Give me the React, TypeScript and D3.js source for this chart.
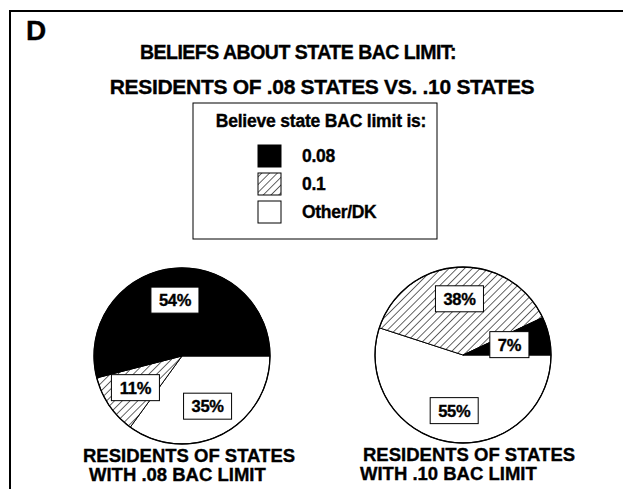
import * as d3 from 'd3';

const W = 623;
const H = 489;

// slice order, clockwise from 3 o'clock
const CATEGORIES = ['Other/DK', '0.1', '0.08'];
const RES_08 = [35, 11, 54];
const RES_10 = [55, 38, 7];

const LEGEND_ORDER = ['0.08', '0.1', 'Other/DK'];
const TITLE_LINES = ['BELIEFS ABOUT STATE BAC LIMIT:', 'RESIDENTS OF .08 STATES VS. .10 STATES'];
const CAPTIONS = [
  ['RESIDENTS OF STATES', 'WITH .08 BAC LIMIT'],
  ['RESIDENTS OF STATES', 'WITH .10 BAC LIMIT'],
];

const FONT = '"Liberation Sans", Arial, sans-serif';
// scanned print is heavy: thicken the glyphs a little
const INK = { stroke: '#000', strokeWidth: 0.35 };

const fillFor = (cat: string) =>
  cat === '0.08' ? '#000' : cat === '0.1' ? 'url(#hatch)' : '#fff';

const pie = d3
  .pie<number>()
  .sort(null)
  .value(d => d)
  .startAngle(Math.PI / 2)
  .endAngle(Math.PI / 2 + 2 * Math.PI);

const R = 88;
const arc = d3.arc<d3.PieArcDatum<number>>().innerRadius(0).outerRadius(R);

// rough text width for label boxes
const textW = (s: string, size: number) =>
  d3.sum(s.split(''), c => (c === '%' ? 0.889 : 0.556)) * size;

function Pie({ cx, cy, values, caption, capX }: {
  cx: number; cy: number; values: number[]; caption: string[]; capX: number[];
}) {
  const arcs = pie(values);
  return (
    <g>
      <g transform={`translate(${cx},${cy})`}>
        {arcs.map((a, i) => (
          <path key={i} d={arc(a)!} fill={fillFor(CATEGORIES[i])} stroke="#000" strokeWidth={1} />
        ))}
        <circle r={R} fill="none" stroke="#000" strokeWidth={1.3} />
        {arcs.map((a, i) => {
          const lr = a.data < 10 ? R * 0.54 : R * 0.64;
          const [lx, ly] = d3.arc<d3.PieArcDatum<number>>().innerRadius(lr).outerRadius(lr).centroid(a);
          const label = `${a.data}%`;
          const bw = textW(label, 16) + 16;
          const bh = 26;
          return (
            <g key={'l' + i} transform={`translate(${lx},${ly})`}>
              <rect x={-bw / 2} y={-bh / 2} width={bw} height={bh} fill="#fff" stroke="#000" strokeWidth={1} />
              <text y={6} textAnchor="middle" fontSize={16.5} fontWeight="bold" letterSpacing={-0.3} {...INK}>{label}</text>
            </g>
          );
        })}
      </g>
      {caption.map((line, i) => (
        <text key={line} x={capX[i]} y={cy + 106 + i * 19} fontSize={18.5} fontWeight="bold" {...INK}>
          {line}
        </text>
      ))}
    </g>
  );
}

export default function App() {
  const legendY = d3.scalePoint<string>().domain(LEGEND_ORDER).range([156, 212]);
  return (
    <svg
      width={W}
      height={H}
      style={{ position: 'absolute', left: 0, top: 0, background: '#fff' }}
      fontFamily={FONT}
    >
      <defs>
        <pattern id="hatch" patternUnits="userSpaceOnUse" width={5.5} height={5.5} patternTransform="rotate(45)">
          <rect width={5.5} height={5.5} fill="#fff" />
          <line x1={0} y1={0} x2={0} y2={5.5} stroke="#000" strokeWidth={1.2} />
        </pattern>
      </defs>
      <rect width={W} height={H} fill="#fff" />

      {/* frame */}
      <line x1={9} x2={W} y1={11} y2={11} stroke="#000" strokeWidth={2} />
      <line x1={10} x2={10} y1={10} y2={H} stroke="#000" strokeWidth={2} />

      <text x={26} y={40} fontSize={28} fontWeight="bold" {...INK}>D</text>

      <text x={298} y={59} textAnchor="middle" fontSize={19.5} fontWeight="bold" letterSpacing={-0.5} {...INK}>
        {TITLE_LINES[0]}
      </text>
      <text x={322} y={94} textAnchor="middle" fontSize={21} fontWeight="bold" letterSpacing={-0.3} {...INK}>
        {TITLE_LINES[1]}
      </text>

      {/* legend */}
      <rect x={193} y={103} width={244} height={136} fill="#fff" stroke="#000" strokeWidth={1} />
      <text x={321} y={127} textAnchor="middle" fontSize={17.5} fontWeight="bold" letterSpacing={-0.2} {...INK}>
        Believe state BAC limit is:
      </text>
      {LEGEND_ORDER.map(cat => (
        <g key={cat} transform={`translate(258,${legendY(cat)})`}>
          <rect x={0} y={-11} width={23} height={22} fill={fillFor(cat)} stroke="#000" strokeWidth={1} />
          <text x={44} y={6} fontSize={17.5} fontWeight="bold" letterSpacing={-0.3} {...INK}>{cat}</text>
        </g>
      ))}

      <Pie cx={182} cy={356} values={RES_08} caption={CAPTIONS[0]} capX={[83, 89]} />
      <Pie cx={463} cy={355} values={RES_10} caption={CAPTIONS[1]} capX={[363, 360]} />
    </svg>
  );
}
